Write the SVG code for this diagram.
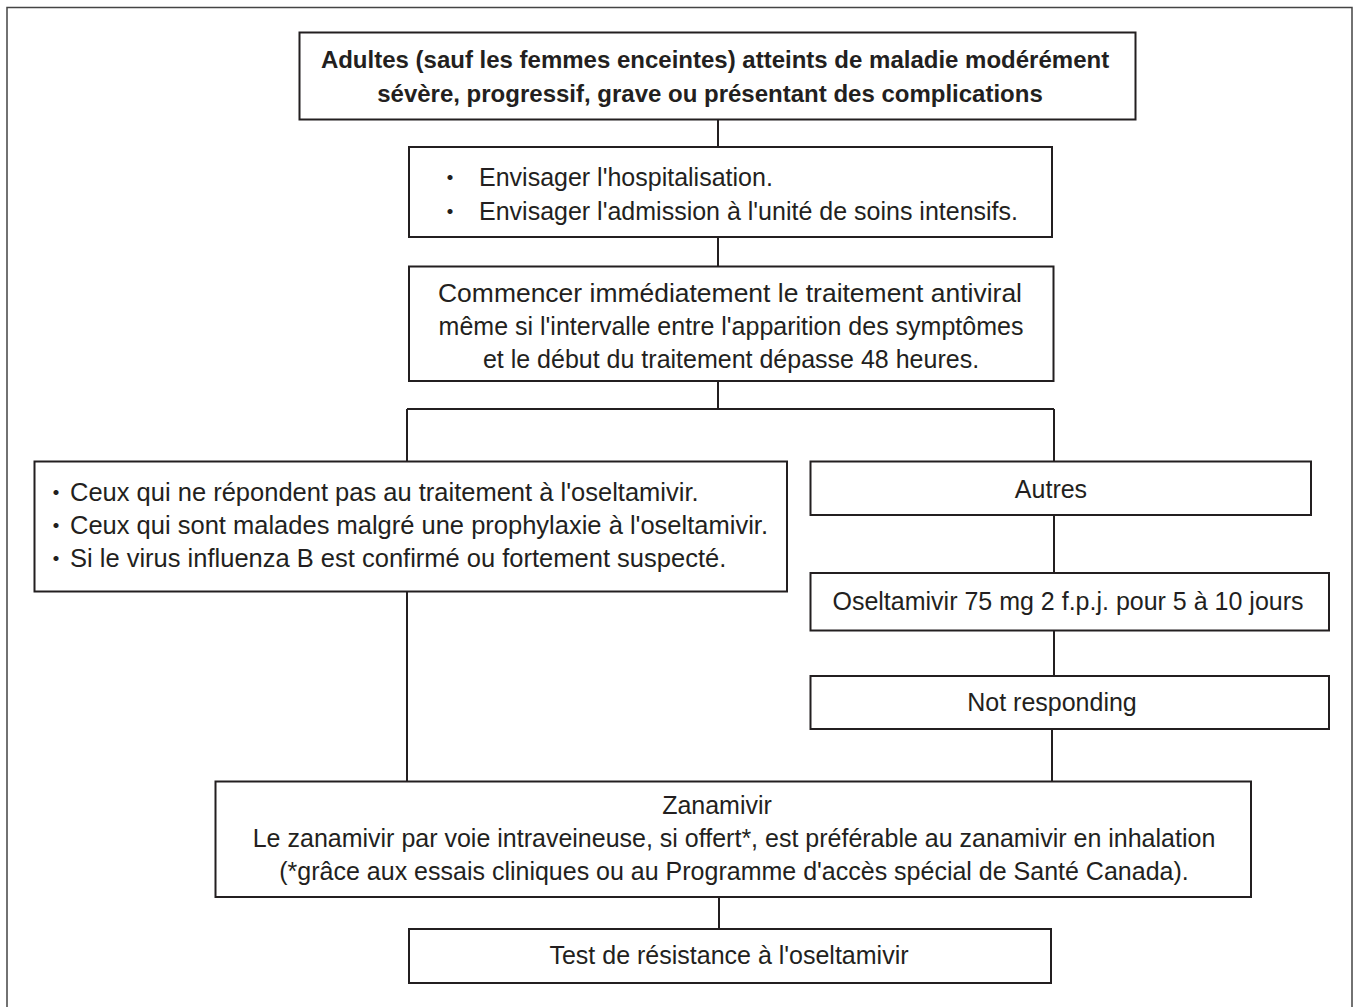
<svg xmlns="http://www.w3.org/2000/svg" width="1356" height="1007" viewBox="0 0 1356 1007">
<style>
.box{fill:#ffffff;stroke:#231f20;stroke-width:2}
.ln{fill:none;stroke:#231f20;stroke-width:2}
.frame{fill:none;stroke:#444444;stroke-width:1.5}
.t{font-family:"Liberation Sans",Arial,sans-serif;font-size:25px;fill:#231f20}
.tl{font-size:25.5px}
.b{font-family:"Liberation Sans",Arial,sans-serif;font-size:24px;font-weight:bold;fill:#231f20}
.c{text-anchor:middle}
.dot{font-family:"Noto Sans CJK JP",sans-serif;font-size:24px;fill:#231f20;text-anchor:middle}
</style>
<rect width="1356" height="1007" fill="#ffffff"/>
<path class="frame" d="M7,1010 V7.5 H1352 V1010"/>
<g id="connectors">
<path class="ln" d="M718,119.5 V147"/>
<path class="ln" d="M718,237 V266.5"/>
<path class="ln" d="M718,381 V409 M407,409 H1054 M407,409 V461.5 M1054,409 V461.5"/>
<path class="ln" d="M1054,515 V573"/>
<path class="ln" d="M1054,630.5 V676"/>
<path class="ln" d="M1052,729 V781.5"/>
<path class="ln" d="M407,591.5 V781.5"/>
<path class="ln" d="M719,897 V929"/>
</g>
<g id="n1">
<rect class="box" x="299.5" y="32.5" width="836" height="87"/>
<text class="b c" x="715" y="68">Adultes (sauf les femmes enceintes) atteints de maladie modérément</text>
<text class="b c" x="710" y="102">sévère, progressif, grave ou présentant des complications</text>
</g>
<g id="n2">
<rect class="box" x="409" y="147" width="643" height="90"/>
<text class="dot" x="450" y="186">・</text>
<text class="t" x="479" y="186">Envisager l'hospitalisation.</text>
<text class="dot" x="450" y="220">・</text>
<text class="t" x="479" y="220">Envisager l'admission à l'unité de soins intensifs.</text>
</g>
<g id="n3">
<rect class="box" x="409" y="266.5" width="644.5" height="114.5"/>
<text class="t c" x="730" y="302" textLength="584" lengthAdjust="spacingAndGlyphs">Commencer immédiatement le traitement antiviral</text>
<text class="t c" x="731" y="335">même si l'intervalle entre l'apparition des symptômes</text>
<text class="t c" x="731" y="368">et le début du traitement dépasse 48 heures.</text>
</g>
<g id="n4">
<rect class="box" x="34.5" y="461.5" width="752.5" height="130"/>
<text class="dot" x="56" y="501">・</text>
<text class="t tl" x="70" y="501">Ceux qui ne répondent pas au traitement à l'oseltamivir.</text>
<text class="dot" x="56" y="534">・</text>
<text class="t tl" x="70" y="534">Ceux qui sont malades malgré une prophylaxie à l'oseltamivir.</text>
<text class="dot" x="56" y="567">・</text>
<text class="t tl" x="70" y="567">Si le virus influenza B est confirmé ou fortement suspecté.</text>
</g>
<g id="n5">
<rect class="box" x="810.5" y="461.5" width="500.5" height="53.5"/>
<text class="t c" x="1051" y="498">Autres</text>
</g>
<g id="n6">
<rect class="box" x="810.5" y="573" width="518.5" height="57.5"/>
<text class="t c" x="1068" y="610">Oseltamivir 75 mg 2 f.p.j. pour 5 à 10 jours</text>
</g>
<g id="n7">
<rect class="box" x="810.5" y="676" width="518.5" height="53"/>
<text class="t c" x="1052" y="711">Not responding</text>
</g>
<g id="n8">
<rect class="box" x="215.5" y="781.5" width="1035.5" height="115.5"/>
<text class="t c" x="717" y="814">Zanamivir</text>
<text class="t c" x="734" y="847">Le zanamivir par voie intraveineuse, si offert*, est préférable au zanamivir en inhalation</text>
<text class="t c" x="734" y="880">(*grâce aux essais cliniques ou au Programme d'accès spécial de Santé Canada).</text>
</g>
<g id="n9">
<rect class="box" x="409" y="929" width="642" height="54"/>
<text class="t c" x="729" y="964">Test de résistance à l'oseltamivir</text>
</g>
</svg>
